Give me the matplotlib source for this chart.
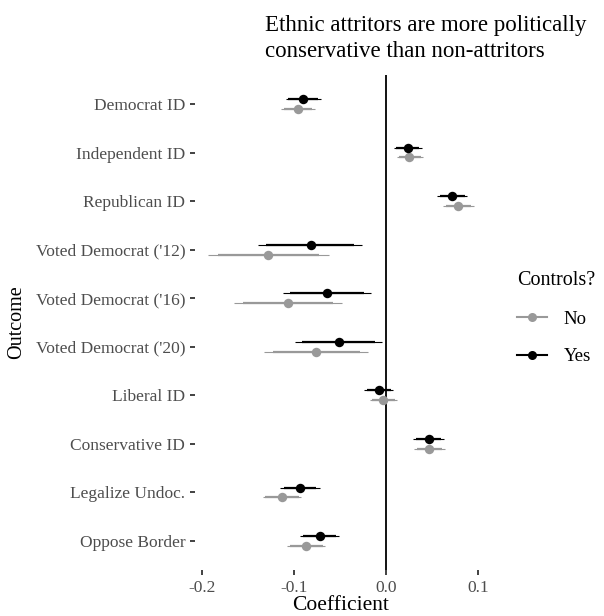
import matplotlib
matplotlib.use('Agg')
import matplotlib.pyplot as plt
from matplotlib.lines import Line2D

plt.rcParams['font.family'] = ['Liberation Serif', 'DejaVu Serif']

outcomes = ['Democrat ID', 'Independent ID', 'Republican ID', "Voted Democrat ('12)",
            "Voted Democrat ('16)", "Voted Democrat ('20)", 'Liberal ID', 'Conservative ID',
            'Legalize Undoc.', 'Oppose Border']

# estimates and intervals without controls
no_est = [-0.096, 0.025, 0.078, -0.128, -0.106, -0.076, -0.003, 0.047, -0.113, -0.087]
no_lo95 = [-0.114, 0.012, 0.062, -0.193, -0.165, -0.132, -0.017, 0.030, -0.134, -0.108]
no_hi95 = [-0.077, 0.040, 0.095, -0.062, -0.048, -0.020, 0.012, 0.064, -0.092, -0.066]
no_lo90 = [-0.111, 0.014, 0.065, -0.182, -0.155, -0.123, -0.015, 0.033, -0.131, -0.104]
no_hi90 = [-0.080, 0.038, 0.092, -0.073, -0.058, -0.028, 0.010, 0.061, -0.095, -0.069]

# estimates and intervals with controls
yes_est = [-0.090, 0.024, 0.071, -0.082, -0.064, -0.051, -0.008, 0.046, -0.094, -0.072]
yes_lo95 = [-0.109, 0.009, 0.055, -0.139, -0.112, -0.099, -0.024, 0.029, -0.115, -0.094]
yes_hi95 = [-0.071, 0.039, 0.088, -0.026, -0.016, -0.005, 0.007, 0.063, -0.072, -0.051]
yes_lo90 = [-0.106, 0.011, 0.058, -0.130, -0.104, -0.091, -0.021, 0.032, -0.111, -0.090]
yes_hi90 = [-0.074, 0.036, 0.085, -0.035, -0.024, -0.012, 0.005, 0.060, -0.076, -0.054]

x_ticks = [-0.2, -0.1, 0.0, 0.1]

fig = plt.figure(figsize=(6.04, 6.16), dpi=100)
ax = fig.add_axes([195 / 604, 46 / 616, 292 / 604, 495 / 616])

n = len(outcomes)
pos = [n - 1 - i for i in range(n)]

series = [
    ('#999999', -0.1, no_est, no_lo95, no_hi95, no_lo90, no_hi90),
    ('black', 0.1, yes_est, yes_lo95, yes_hi95, yes_lo90, yes_hi90),
]
for color, off, est, lo95, hi95, lo90, hi90 in series:
    ys = [p + off for p in pos]
    ax.hlines(ys, lo95, hi95, color=color, lw=0.8, zorder=2)
    ax.hlines(ys, lo90, hi90, color=color, lw=1.6, zorder=2)
    ax.plot(est, ys, 'o', color=color, ms=6.8, zorder=3, mec='none')

ax.axvline(0, color='black', lw=1.3, zorder=1)

ax.set_xlim(-0.2074, 0.1094)
ax.set_ylim(-0.6, n - 0.4)
ax.set_yticks(pos)
ax.set_yticklabels(outcomes)
ax.set_xticks(x_ticks)
ax.set_xticklabels(['-0.2', '-0.1', '0.0', '0.1'])
ax.tick_params(axis='both', colors='#333333', labelcolor='#4D4D4D', labelsize=12.5,
               length=3.5, width=1.3)
for s in ax.spines.values():
    s.set_visible(False)

ax.set_xlabel('Coefficient', fontsize=15.5, labelpad=0)
ax.set_ylabel('Outcome', fontsize=14.5, labelpad=7)

fig.text(265 / 604, 1 - 15 / 616, 'Ethnic attritors are more politically\nconservative than non-attritors',
         ha='left', va='top', fontsize=16.5, linespacing=1.3)

handles = [
    Line2D([], [], color='#999999', lw=1.5, marker='o', ms=6.5, mec='none'),
    Line2D([], [], color='black', lw=1.5, marker='o', ms=6.5, mec='none'),
]
leg = fig.legend(handles, ['No', 'Yes'], title='Controls?', loc='center left',
                 bbox_to_anchor=(500 / 604, 1 - 318 / 616), frameon=False, fontsize=13.5,
                 title_fontsize=14.5, handlelength=1.6, labelspacing=1.1, handletextpad=0.9)
leg._legend_box.align = 'left'

fig.savefig('out.png', dpi=100)
